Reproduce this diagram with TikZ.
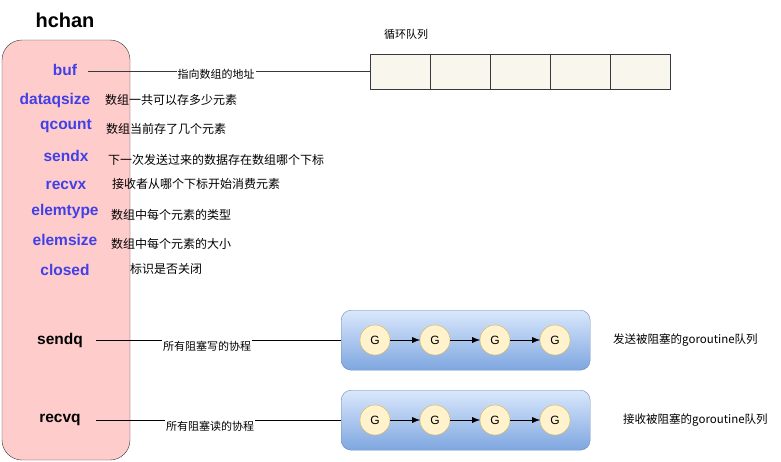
\documentclass[tikz,border=0pt]{standalone}
\usepackage{fontspec}
\setmainfont{Liberation Sans}
\newfontfamily\cjk{Noto Sans CJK SC}
\usetikzlibrary{positioning,arrows.meta}
\definecolor{fieldblue}{RGB}{64,64,230}
\definecolor{pinkfill}{RGB}{255,204,204}
\definecolor{darkline}{RGB}{54,57,61}
\definecolor{cellfill}{RGB}{249,247,237}
\definecolor{qtop}{RGB}{218,232,252}
\definecolor{qbottom}{RGB}{126,166,224}
\definecolor{qline}{RGB}{108,142,191}
\definecolor{gfill}{RGB}{255,242,204}
\definecolor{gline}{RGB}{214,182,86}

\begin{document}
\begin{tikzpicture}[x=1pt,y=-1pt,>={Latex[length=8pt,width=6pt]},
  field/.style={font=\fontsize{15.5}{18}\selectfont\bfseries,text=fieldblue},
  qfield/.style={font=\fontsize{15.5}{18}\selectfont\bfseries},
  desc/.style={font=\cjk\fontsize{12}{14}\selectfont,anchor=west,inner sep=0pt},
  linelabel/.style={font=\cjk\fontsize{11}{13}\selectfont,fill=white,inner sep=1pt},
  cell/.style={draw=darkline,fill=cellfill,minimum width=60pt,minimum height=35pt,inner sep=0pt,outer sep=0pt},
  queuebox/.style={draw=qline,rounded corners=10pt,top color=qtop,bottom color=qbottom},
  gnode/.style={circle,draw=gline,fill=gfill,minimum size=30pt,inner sep=0pt,outer sep=0pt,font=\fontsize{12}{14}\selectfont}]
  \useasboundingbox (0,0) rectangle (781,461);

  \node[font=\fontsize{20}{24}\selectfont\bfseries] (hchan) at (65,20) {hchan};
  \draw[darkline,fill=pinkfill,rounded corners=20pt] (2,40) rectangle (130,460);

  \node[field] (buf) at (65,70) {buf};
  \node[field] (dataqsize) at (55,100) {dataqsize};
  \node[field] (qcount) at (66,126) {qcount};
  \node[field] (sendx) at (66,156) {sendx};
  \node[field] (recvx) at (66,185) {recvx};
  \node[field] (elemtype) at (65,211) {elemtype};
  \node[field] (elemsize) at (65,240) {elemsize};
  \node[field] (closed) at (65,270) {closed};
  \node[qfield] (sendq) at (60,340) {sendq};
  \node[qfield] (recvq) at (60,420) {recvq};

  \node[desc] (d1) at (105,100) {数组一共可以存多少元素};
  \node[desc] (d2) at (106,129) {数组当前存了几个元素};
  \node[desc] (d3) at (108,160) {下一次发送过来的数据存在数组哪个下标};
  \node[desc] (d4) at (112,184) {接收者从哪个下标开始消费元素};
  \node[desc] (d5) at (111,215) {数组中每个元素的类型};
  \node[desc] (d6) at (111,244) {数组中每个元素的大小};
  \node[desc] (d7) at (130,269) {标识是否关闭};

  \node[font=\cjk\fontsize{11}{13}\selectfont] (ringlabel) at (406,34) {循环队列};
  \node[cell,anchor=west] (c1) at (370,71.5) {};
  \node[cell,right=0pt of c1] (c2) {};
  \node[cell,right=0pt of c2] (c3) {};
  \node[cell,right=0pt of c3] (c4) {};
  \node[cell,right=0pt of c4] (c5) {};
  \coordinate (bufstart) at (88,71.5);
  \draw[darkline] (bufstart) -- (c1.west);
  \node[linelabel] (buflabel) at (216,74) {指向数组的地址};

  \node[queuebox,minimum width=249pt,minimum height=60pt,anchor=north west] (sendbox) at (341,310) {};
  \node[gnode] (s1) at (375,340) {G};
  \node[gnode,right=30pt of s1] (s2) {G};
  \node[gnode,right=30pt of s2] (s3) {G};
  \node[gnode,right=30pt of s3] (s4) {G};
  \draw[->] (s1) -- (s2);
  \draw[->] (s2) -- (s3);
  \draw[->] (s3) -- (s4);
  \coordinate (sendqstart) at (96,340.5);
  \draw (sendqstart) -- (sendqstart -| sendbox.west);
  \node[linelabel] (sendlabel) at (207,346) {所有阻塞写的协程};
  \node[desc,font=\cjk\fontsize{11.5}{13}\selectfont] (sendtext) at (613,340) {发送被阻塞的goroutine队列};

  \node[queuebox,minimum width=249pt,minimum height=60pt,anchor=north west] (recvbox) at (341,390) {};
  \node[gnode] (r1) at (375,420) {G};
  \node[gnode,right=30pt of r1] (r2) {G};
  \node[gnode,right=30pt of r2] (r3) {G};
  \node[gnode,right=30pt of r3] (r4) {G};
  \draw[->] (r1) -- (r2);
  \draw[->] (r2) -- (r3);
  \draw[->] (r3) -- (r4);
  \coordinate (recvqstart) at (96,420.5);
  \draw (recvqstart) -- (recvqstart -| recvbox.west);
  \node[linelabel] (recvlabel) at (210,426) {所有阻塞读的协程};
  \node[desc,font=\cjk\fontsize{11.5}{13}\selectfont] (recvtext) at (623,420) {接收被阻塞的goroutine队列};
\end{tikzpicture}
\end{document}
